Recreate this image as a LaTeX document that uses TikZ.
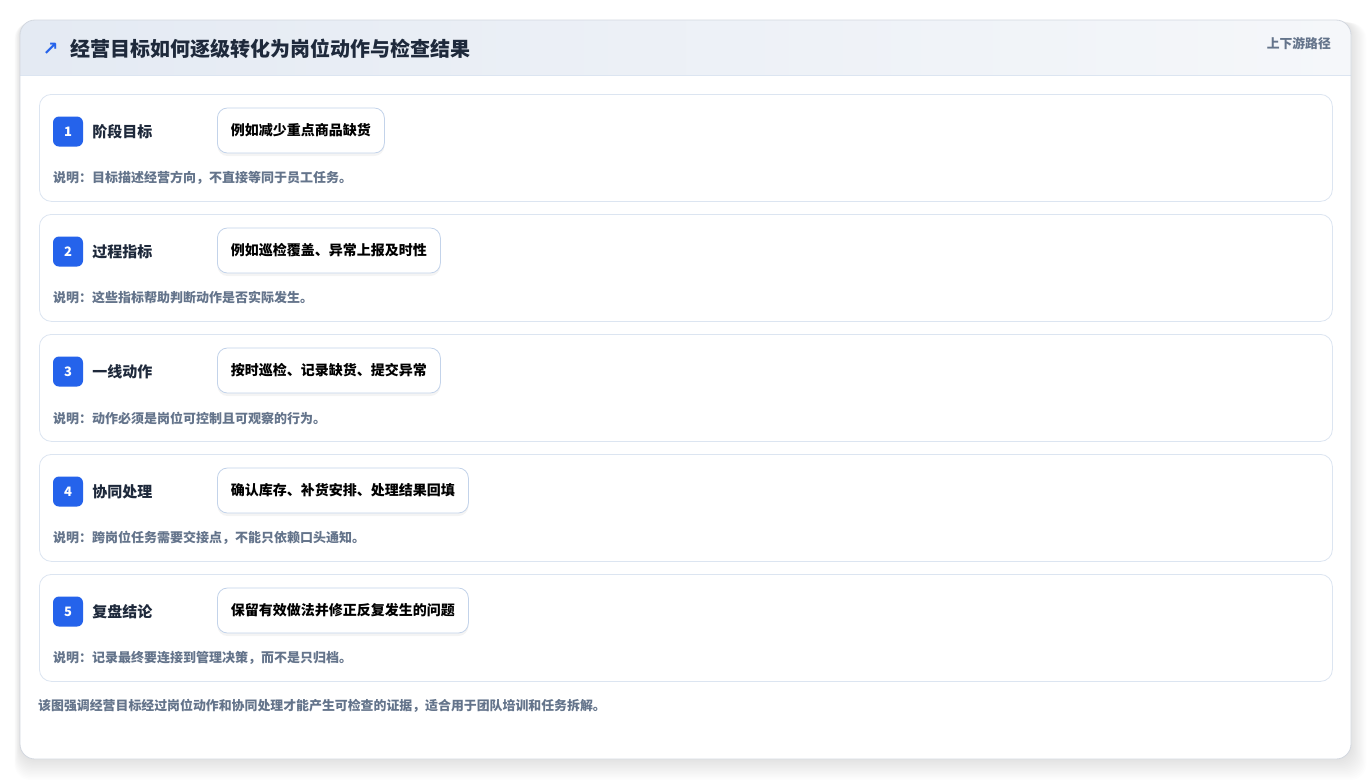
\documentclass[tikz,border=0pt]{standalone}
\usepackage{fontspec}
\setmainfont{Noto Sans CJK SC}
\newfontfamily\symfont{DejaVu Sans}
\usetikzlibrary{positioning, calc}
\definecolor{badgeblue}{HTML}{2563EB}
\definecolor{titleink}{HTML}{1E293B}
\definecolor{noteink}{HTML}{64748B}
\definecolor{rowline}{HTML}{DCE5F1}
\definecolor{pillline}{HTML}{C3D3EA}
\definecolor{cardline}{HTML}{D3D8E0}
\definecolor{headleft}{HTML}{E4EAF3}
\definecolor{headright}{HTML}{F5F7FA}

\begin{document}
\begin{tikzpicture}[x=1pt, y=-1pt,
    rowbox/.style={draw=rowline, line width=0.8pt, fill=white, rounded corners=12pt,
        minimum width=1293pt, minimum height=107pt, anchor=north west, inner sep=0pt},
    badge/.style={fill=badgeblue, text=white, rounded corners=6pt, minimum size=30pt,
        inner sep=0pt, font=\fontsize{13}{15}\selectfont\bfseries},
    steplabel/.style={anchor=west, inner sep=0pt, text=titleink, font=\fontsize{15}{17}\selectfont\bfseries},
    pill/.style={draw=pillline, line width=0.8pt, fill=white, rounded corners=10pt, anchor=west,
        minimum height=45pt, inner xsep=13.5pt, inner ysep=0pt, text=black,
        font=\fontsize{14}{16}\selectfont\bfseries},
    pillshadow/.style={pill, draw=none, fill=black, fill opacity=0.045},
    notetext/.style={anchor=west, inner sep=0pt, text=noteink, font=\fontsize{13}{15}\selectfont\bfseries}]
\useasboundingbox (0,0) rectangle (1372,780);
\fill[white] (0,0) rectangle (1372,780);

% soft shadow of the card
\foreach \s in {1,...,14}
  \fill[black, opacity=0.007, rounded corners=16pt]
    (20-0.4*\s, 20+0.2*\s) rectangle (1351+1.1*\s, 759+1.5*\s);

% card and header
\fill[white, rounded corners=15pt] (20,20) rectangle (1351,759);
\begin{scope}
  \clip[rounded corners=15pt] (20,20) rectangle (1351,759);
  \shade[left color=headleft, right color=headright] (20,20) rectangle (1351,75);
  \draw[rowline, line width=0.8pt] (20,75) -- (1351,75);
\end{scope}
\draw[cardline, line width=0.8pt, rounded corners=15pt] (20,20) rectangle (1351,759);

\node[anchor=center, inner sep=0pt, text=badgeblue, font=\symfont\bfseries\fontsize{19}{19}\selectfont] (icon) at (50.5,49) {↗};
\node[anchor=west, inner sep=0pt, text=titleink, font=\fontsize{20}{24}\selectfont\bfseries] (title) at (70,49) {经营目标如何逐级转化为岗位动作与检查结果};
\node[anchor=east, inner sep=0pt, text=noteink, font=\fontsize{12.8}{15}\selectfont\bfseries] (path) at (1331,44) {上下游路径};

% the five steps
\foreach \n/\lab/\ex/\note in {
    1/阶段目标/例如减少重点商品缺货/说明：目标描述经营方向，不直接等同于员工任务。,
    2/过程指标/例如巡检覆盖、异常上报及时性/说明：这些指标帮助判断动作是否实际发生。,
    3/一线动作/按时巡检、记录缺货、提交异常/说明：动作必须是岗位可控制且可观察的行为。,
    4/协同处理/确认库存、补货安排、处理结果回填/说明：跨岗位任务需要交接点，不能只依赖口头通知。,
    5/复盘结论/保留有效做法并修正反复发生的问题/说明：记录最终要连接到管理决策，而不是只归档。}
{
  \pgfmathsetmacro\top{94+120*(\n-1)}
  \node[rowbox] (row\n) at (39,\top) {};
  \node[badge] (badge\n) at (68,\top+37.5) {\n};
  \node[steplabel, right=9pt of badge\n] (label\n) {\lab};
  \node[pillshadow] (shade\n) at (217,\top+39.5) {\phantom{\ex}};
  \node[pill] (pill\n) at (217,\top+36.5) {\ex};
  \node[notetext] (note\n) at (53,\top+84) {\note};
}

\node[anchor=west, inner sep=0pt, text=noteink, font=\fontsize{12.9}{15}\selectfont\bfseries] (summary) at (38,706) {该图强调经营目标经过岗位动作和协同处理才能产生可检查的证据，适合用于团队培训和任务拆解。};
\end{tikzpicture}
\end{document}
